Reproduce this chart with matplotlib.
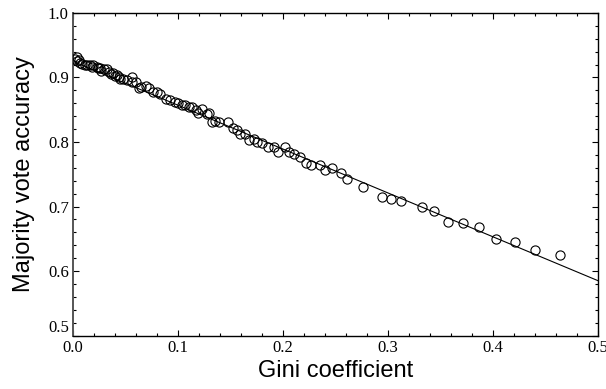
import matplotlib
matplotlib.use("Agg")
import matplotlib.pyplot as plt
from matplotlib.ticker import MultipleLocator
import numpy as np

# Data
gini = [0.002, 0.0035, 0.004, 0.0057, 0.007, 0.0083, 0.0114, 0.013, 0.0162, 0.018,
        0.0194, 0.0225, 0.024, 0.0257, 0.027, 0.0298, 0.032, 0.0346, 0.036, 0.0384,
        0.040, 0.0416, 0.0441, 0.045, 0.048, 0.051, 0.056, 0.056, 0.060, 0.063,
        0.065, 0.0695, 0.0727, 0.076, 0.080, 0.083, 0.0886, 0.0924, 0.097, 0.1003,
        0.1035, 0.1067, 0.110, 0.113, 0.117, 0.119, 0.1226, 0.1273, 0.1295, 0.132,
        0.135, 0.139, 0.148, 0.152, 0.156, 0.159, 0.164, 0.168, 0.172, 0.175,
        0.180, 0.186, 0.191, 0.1955, 0.202, 0.206, 0.210, 0.216, 0.222, 0.227,
        0.235, 0.240, 0.247, 0.255, 0.261, 0.276, 0.294, 0.303, 0.312, 0.332,
        0.344, 0.357, 0.371, 0.387, 0.403, 0.421, 0.440, 0.464]
accuracy = [0.928, 0.932, 0.925, 0.927, 0.923, 0.921, 0.919, 0.920, 0.919, 0.917,
            0.919, 0.917, 0.915, 0.914, 0.910, 0.913, 0.913, 0.909, 0.905, 0.907,
            0.902, 0.904, 0.900, 0.898, 0.897, 0.896, 0.901, 0.893, 0.893, 0.883,
            0.885, 0.887, 0.883, 0.878, 0.878, 0.874, 0.866, 0.865, 0.862, 0.860,
            0.857, 0.857, 0.855, 0.854, 0.850, 0.845, 0.851, 0.844, 0.845, 0.831,
            0.833, 0.831, 0.831, 0.821, 0.819, 0.813, 0.813, 0.803, 0.804, 0.800,
            0.798, 0.793, 0.793, 0.785, 0.793, 0.785, 0.781, 0.777, 0.767, 0.764,
            0.764, 0.756, 0.759, 0.752, 0.742, 0.731, 0.715, 0.712, 0.709, 0.700,
            0.693, 0.676, 0.675, 0.668, 0.650, 0.645, 0.633, 0.625]

fit_x = [0.0, 0.5]
fit_y = [0.925, 0.585]

xticks = [0.0, 0.1, 0.2, 0.3, 0.4, 0.5]
yticks = [0.5, 0.6, 0.7, 0.8, 0.9, 1.0]

fig = plt.figure(figsize=(6.06, 3.89), dpi=100)
ax = fig.add_axes([0.1205, 0.1375, 0.8663, 0.8291])

ax.plot(fit_x, fit_y, color="black", lw=0.8, zorder=2)
ax.plot(gini, accuracy, linestyle="none", marker="o", markersize=6.6,
        markerfacecolor="none", markeredgecolor="black", markeredgewidth=0.8,
        zorder=3)

ax.set_xlim(0, 0.5)
ax.set_ylim(0.5, 1.0)
ax.set_xticks(xticks)
ax.set_yticks(yticks)
ax.set_xticklabels([f"{v:.1f}" for v in xticks], family="Liberation Serif", fontsize=12)
ax.set_yticklabels([f"{v:.1f}" for v in yticks], family="Liberation Serif", fontsize=12)
ax.xaxis.set_minor_locator(MultipleLocator(0.02))
ax.yaxis.set_minor_locator(MultipleLocator(0.02))
ax.tick_params(which="both", direction="in", top=True, right=True, color="black")
ax.tick_params(which="major", length=4.5, width=0.8, pad=3)
ax.tick_params(which="minor", length=2.5, width=0.8)
ax.get_yticklabels()[0].set_verticalalignment("bottom")

for s in ax.spines.values():
    s.set_linewidth(1.0)
    s.set_color("black")
ax.spines["left"].set_color("#555555")
ax.spines["left"].set_linewidth(1.4)

ax.set_xlabel("Gini coefficient", family="Liberation Sans", fontsize=17, labelpad=3)
ax.set_ylabel("Majority vote accuracy", family="Liberation Sans", fontsize=17, labelpad=9)

fig.savefig("out.png", dpi=100)
